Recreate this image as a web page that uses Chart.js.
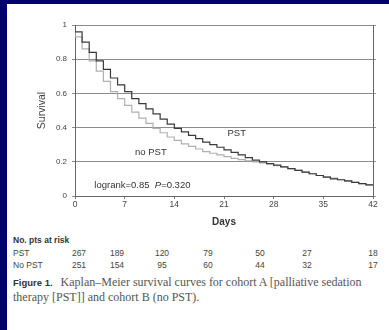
<!DOCTYPE html>
<html>
<head>
<meta charset="utf-8">
<script src="https://cdn.jsdelivr.net/npm/chart.js@4"></script>
<style>
  html, body { margin:0; padding:0; }
  body { width:389px; height:330px; background:rgb(0,0,110); position:relative; overflow:hidden;
         font-family:"Liberation Sans", Arial, sans-serif; }
  #panel { position:absolute; left:7px; top:4px; width:382px; height:326px; background:#fff; }
  #c { position:absolute; left:0; top:0; }
  .t { position:absolute; color:#444; font-size:8.5px; line-height:10px; white-space:nowrap; }
  .num { transform:translateX(-50%); }
  #hdr { font-weight:bold; color:#333; }
  #cap { position:absolute; left:13px; top:275px; font-family:"Liberation Serif", "DejaVu Serif", serif;
         font-size:12px; line-height:14px; color:#555; white-space:nowrap; }
  #cap b { font-family:"Liberation Sans", Arial, sans-serif; font-size:9.5px; color:#333; margin-right:5px; }
</style>
</head>
<body>
<div id="panel"></div>
<canvas id="c" width="389" height="232"></canvas>
<div id="table"></div>
<div id="cap"><b>Figure 1.</b> Kaplan–Meier survival curves for cohort A [palliative sedation<br>therapy [PST]] and cohort B (no PST).</div>
<script>
// ---- data ----
const days = [0,1,2,3,4,5,6,7,8,9,10,11,12,13,14,15,16,17,18,19,20,21,22,23,24,25,26,27,28,29,30,31,32,33,34,35,36,37,38,39,40,41,42];
const survivalPST = [1.0,0.96,0.90,0.84,0.79,0.74,0.69,0.65,0.61,0.57,0.54,0.51,0.48,0.45,0.42,0.395,0.375,0.355,0.335,0.315,0.30,0.285,0.27,0.255,0.24,0.225,0.21,0.20,0.19,0.18,0.17,0.16,0.15,0.14,0.13,0.12,0.11,0.10,0.095,0.088,0.08,0.072,0.065];
const survivalNoPST = [1.0,0.93,0.86,0.79,0.73,0.67,0.61,0.57,0.53,0.49,0.455,0.425,0.395,0.37,0.345,0.325,0.305,0.29,0.275,0.26,0.25,0.24,0.23,0.22,0.213,0.206,0.20,0.193,0.185,0.177,0.17,0.16,0.15,0.14,0.13,0.12,0.112,0.104,0.095,0.087,0.08,0.072,0.065];
const xTicks = [0,7,14,21,28,35,42];
const yTicks = [0,0.2,0.4,0.6,0.8,1];
const riskLabels = ["PST","No PST"];
const riskPST = [267,189,120,79,50,27,18];
const riskNoPST = [251,154,95,60,44,32,17];
const annotationTexts = ["PST","no PST","logrank=0.85  P=0.320"];
const annotationAt = [[22.8,0.368],[10.7,0.257],[9.5,0.064]];

// ---- risk table (HTML text) ----
const colX = [79,117,162,208,260,307,373];
const table = document.getElementById('table');
function addText(txt, x, y, cls, id) {
  const d = document.createElement('div');
  d.className = 't' + (cls ? ' ' + cls : '');
  if (id) d.id = id;
  d.textContent = txt;
  d.style.left = x + 'px';
  d.style.top = (y - 5) + 'px';
  table.appendChild(d);
}
addText("No. pts at risk", 13, 240, '', 'hdr');
[riskPST, riskNoPST].forEach((row, r) => {
  const y = r === 0 ? 253 : 265;
  addText(riskLabels[r], 13, y);
  row.forEach((v, i) => addText(String(v), colX[i], y, 'num'));
});

// ---- annotations plugin ----
const annot = {
  id: 'annot',
  afterDatasetsDraw(chart) {
    const ctx = chart.ctx, xs = chart.scales.x, ys = chart.scales.y;
    ctx.save();
    ctx.fillStyle = '#333';
    ctx.textAlign = 'center';
    ctx.textBaseline = 'middle';
    annotationTexts.forEach((t, i) => {
      const px = xs.getPixelForValue(annotationAt[i][0]);
      const py = ys.getPixelForValue(annotationAt[i][1]);
      if (i === 2) {
        const parts = ["logrank=0.85  ", "P", "=0.320"];
        const widths = parts.map((p, k) => {
          ctx.font = (k === 1 ? 'italic ' : '') + '9.5px "Liberation Sans", Arial, sans-serif';
          return ctx.measureText(p).width;
        });
        let x0 = px - widths.reduce((a,b)=>a+b,0)/2;
        ctx.textAlign = 'left';
        parts.forEach((p, k) => {
          ctx.font = (k === 1 ? 'italic ' : '') + '9.5px "Liberation Sans", Arial, sans-serif';
          ctx.fillText(p, x0, py);
          x0 += widths[k];
        });
        ctx.textAlign = 'center';
      } else {
        ctx.font = '9.5px "Liberation Sans", Arial, sans-serif';
        ctx.fillText(t, px, py);
      }
    });
    ctx.restore();
  }
};

const fontFam = '"Liberation Sans", Arial, sans-serif';
new Chart(document.getElementById('c'), {
  type: 'line',
  data: {
    datasets: [
      { label: 'PST', data: days.map((d,i)=>({x:d, y:survivalPST[i]})), borderColor:'#3a3a3a', borderWidth:1.2,
        stepped:'after', pointRadius:0, fill:false },
      { label: 'no PST', data: days.map((d,i)=>({x:d, y:survivalNoPST[i]})), borderColor:'#b0b0b0', borderWidth:1.2,
        stepped:'after', pointRadius:0, fill:false }
    ]
  },
  options: {
    responsive:false, animation:false, devicePixelRatio:1,
    layout: { padding: { left:28, top:25, right:0, bottom:0 } },
    plugins: { legend:{display:false}, tooltip:{enabled:false} },
    scales: {
      x: {
        type:'linear', min:0, max:42,
        afterBuildTicks: s => { s.ticks = xTicks.map(v=>({value:v})); },
        afterFit: s => { s.height = 36; },
        grid: { display:true, drawOnChartArea:false, tickLength:3, color:'#777' },
        border: { color:'#666', width:1 },
        ticks: { color:'#444', font:{ size:8.5, family:fontFam }, padding:1, maxRotation:0 },
        title: { display:true, text:'Days', color:'#333', font:{ size:10, weight:'bold', family:fontFam }, padding:{top:0,bottom:4} }
      },
      y: {
        min:0, max:1,
        afterBuildTicks: s => { s.ticks = yTicks.map(v=>({value:v})); },
        afterFit: s => { s.width = 47; },
        grid: { color:'#8c8c8c', tickLength:3, lineWidth:1 },
        border: { color:'#666', width:1 },
        ticks: { color:'#444', font:{ size:8, family:fontFam }, padding:5, callback: v => String(v) },
        title: { display:true, text:'Survival', color:'#444', font:{ size:10.5, family:fontFam }, padding:{top:8,bottom:0} }
      },
      y2: {
        position:'right', min:0, max:1,
        afterBuildTicks: s => { s.ticks = yTicks.map(v=>({value:v})); },
        afterFit: s => { s.width = 16; },
        grid: { drawOnChartArea:false, tickLength:3, color:'#999' },
        border: { color:'#666', width:1 },
        ticks: { display:false }
      }
    }
  },
  plugins:[annot]
});
</script>
</body>
</html>
